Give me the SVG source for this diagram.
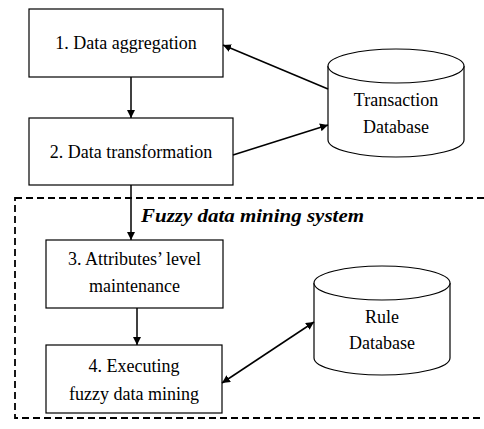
<svg xmlns="http://www.w3.org/2000/svg" width="484" height="429" viewBox="0 0 484 429">
<style>
.box{fill:#fff;stroke:#000;stroke-width:1.2}
.t{font-family:"Liberation Serif","Times New Roman",serif;font-size:18px;fill:#000;text-anchor:middle}
.c{fill:none;stroke:#000;stroke-width:1.5}
.cyl{fill:#fff;stroke:#000;stroke-width:1.2}
</style>
<defs>
<marker id="ah" viewBox="0 0 10 10" refX="10" refY="5" markerWidth="8" markerHeight="8" markerUnits="userSpaceOnUse" orient="auto-start-reverse">
<path d="M0,0 L10,5 L0,10 z" fill="#000"/>
</marker>
</defs>
<rect x="0" y="0" width="484" height="429" fill="#fff"/>
<g id="system">
<rect x="15" y="198" width="480" height="220" fill="none" stroke="#000" stroke-width="1.8" stroke-dasharray="7,4"/>
<text x="141" y="222" font-family="Liberation Serif,'Times New Roman',serif" font-size="19" font-weight="bold" font-style="italic" textLength="223" lengthAdjust="spacingAndGlyphs">Fuzzy data mining system</text>
</g>
<g id="n1">
<rect class="box" x="29" y="9" width="194" height="68"/>
<text class="t" x="126" y="49">1. Data aggregation</text>
</g>
<g id="n2">
<rect class="box" x="29" y="118" width="204" height="67"/>
<text class="t" x="131" y="158">2. Data transformation</text>
</g>
<g id="n3">
<rect class="box" x="46" y="240" width="177" height="68"/>
<text class="t" x="134.5" y="265">3. Attributes’ level</text>
<text class="t" x="134.5" y="292">maintenance</text>
</g>
<g id="n4">
<rect class="box" x="46" y="345" width="176" height="68"/>
<text class="t" x="134" y="372">4. Executing</text>
<text class="t" x="134" y="400">fuzzy data mining</text>
</g>
<g id="tdb">
<path class="cyl" d="M328,66 L328,140 A68,17 0 0 0 464,140 L464,66 A68,17 0 0 0 328,66 Z"/>
<path class="cyl" fill="none" d="M328,66 A68,17 0 0 0 464,66"/>
<text class="t" x="396" y="106">Transaction</text>
<text class="t" x="396" y="133">Database</text>
</g>
<g id="rdb">
<path class="cyl" d="M314,283 L314,358 A68,17 0 0 0 450,358 L450,283 A68,17 0 0 0 314,283 Z"/>
<path class="cyl" fill="none" d="M314,283 A68,17 0 0 0 450,283"/>
<text class="t" x="382" y="323">Rule</text>
<text class="t" x="382" y="349">Database</text>
</g>
<g id="connectors">
<line class="c" x1="131" y1="77" x2="131" y2="118" marker-end="url(#ah)"/>
<line class="c" x1="131" y1="185" x2="131" y2="240" marker-end="url(#ah)"/>
<line class="c" x1="137" y1="308" x2="137" y2="345" marker-end="url(#ah)"/>
<line class="c" x1="328" y1="89" x2="223" y2="45" marker-end="url(#ah)"/>
<line class="c" x1="233" y1="155" x2="328" y2="125" marker-end="url(#ah)"/>
<line class="c" x1="222" y1="383" x2="314" y2="322" marker-start="url(#ah)" marker-end="url(#ah)"/>
</g>
</svg>
